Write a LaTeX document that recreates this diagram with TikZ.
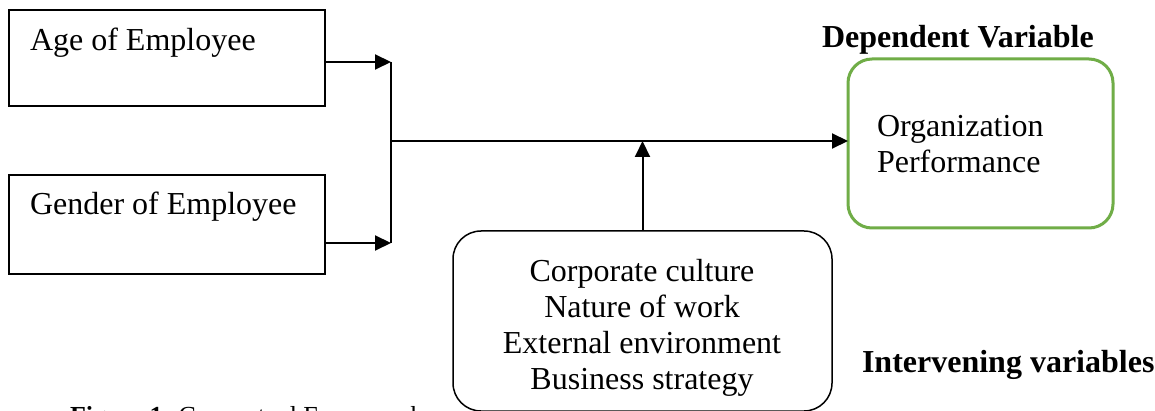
\documentclass[tikz,border=0pt]{standalone}
\usepackage{fontspec}
\setmainfont{Liberation Serif}
\usetikzlibrary{arrows.meta}
\definecolor{perfgreen}{HTML}{70AD47}
\tikzset{
  box/.style={draw=black, line width=1.5pt, inner sep=0pt, outer sep=0pt, anchor=north west},
  rbox/.style={draw=black, line width=1.5pt, rounded corners=28pt, inner sep=0pt, outer sep=0pt, anchor=north west},
  gbox/.style={draw=perfgreen, line width=3pt, rounded corners=24pt, inner sep=0pt, outer sep=0pt, anchor=north west},
  lbl/.style={inner sep=0pt, outer sep=0pt, font=\fontsize{32}{36}\selectfont},
  arr/.style={line width=2pt, -{Triangle[length=16pt,width=15pt]}},
  conn/.style={line width=2pt}
}
\begin{document}
\begin{tikzpicture}[x=1pt,y=-1pt]
\useasboundingbox (0,0) rectangle (1155,411);
\clip (0,0) rectangle (1155,411);
\fill[white] (0,0) rectangle (1155,411);
% boxes
\node[box, minimum width=316pt, minimum height=96pt] (age) at (9,10) {};
\node[box, minimum width=316pt, minimum height=99pt] (gender) at (9,175) {};
\node[gbox, minimum width=265pt, minimum height=169pt] (perf) at (848,59) {};
\node[rbox, minimum width=379pt, minimum height=180pt] (inter) at (453,231) {};
% texts
\node[lbl, anchor=base west] (agetxt) at (30,51) {Age of Employee};
\node[lbl, anchor=base west] (gendertxt) at (30,215) {Gender of Employee};
\node[lbl, anchor=base west] (perftxt1) at (877,137) {Organization};
\node[lbl, anchor=base west] (perftxt2) at (877,173) {Performance};
\node[lbl, anchor=base] (it1) at (642,281) {Corporate culture};
\node[lbl, anchor=base] (it2) at (642,317) {Nature of work};
\node[lbl, anchor=base] (it3) at (642,353) {External environment};
\node[lbl, anchor=base] (it4) at (642,389) {Business strategy};
\node[lbl, anchor=base west, font=\fontsize{32}{36}\selectfont\bfseries] (dep) at (822,48) {Dependent Variable};
\node[lbl, anchor=base west, font=\fontsize{32}{36}\selectfont\bfseries] (intlbl) at (862,372) {Intervening variables};
\node[lbl, anchor=base west, font=\fontsize{26}{30}\selectfont] (cap) at (70,424) {\textbf{Figure 1}: Conceptual Framework};
% connectors
\coordinate (j1) at (391,62);
\coordinate (j2) at (391,243);
\coordinate (jm) at (391,141);
\draw[arr] (age.east |- j1) -- (j1);
\draw[arr] (gender.east |- j2) -- (j2);
\draw[conn] (j1) -- (j2);
\draw[arr] (jm) -- (perf.west |- jm);
\draw[arr] (inter.north) -- (inter.north |- jm);
\end{tikzpicture}
\end{document}
